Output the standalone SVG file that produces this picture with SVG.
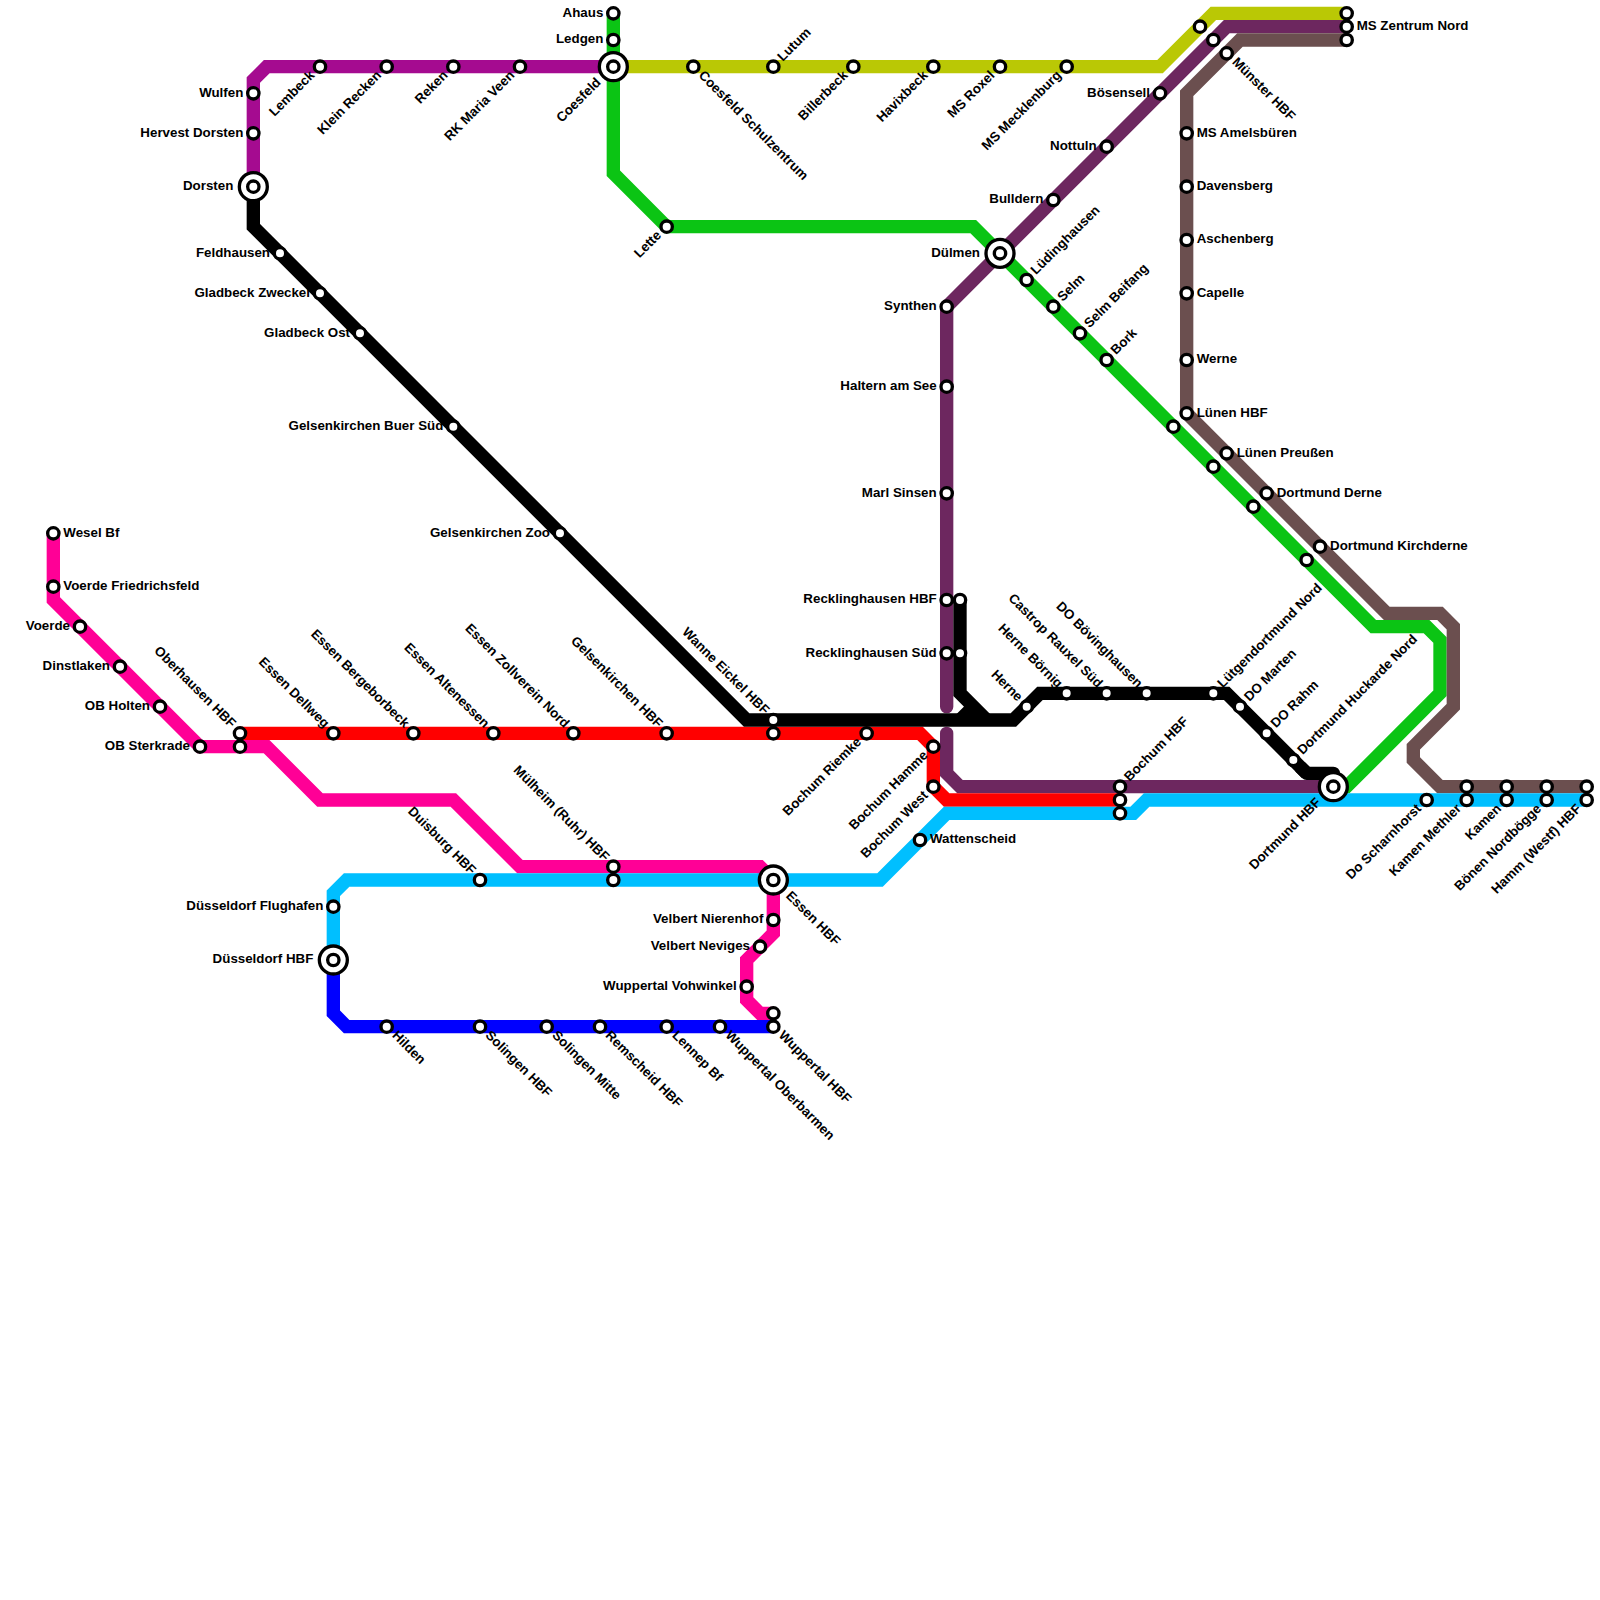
<svg xmlns="http://www.w3.org/2000/svg" width="1600" height="1600" viewBox="0 0 1600 1600">
<style>
text{font-family:"Liberation Sans",Arial,sans-serif;font-size:13.33px;font-weight:700;fill:#000}
.e{text-anchor:end}
.ln{fill:none;stroke-width:1;stroke-linejoin:miter;stroke-linecap:butt}
.st{fill:#fff;stroke:#000;stroke-width:3.33}
</style>
<defs>
<circle id="s" class="st" r="5.67"/>
<g id="b"><circle class="st" r="14"/><circle class="st" r="5.67"/></g>
</defs>
<rect width="1600" height="1600" fill="#fff"/>
<g id="connectors" transform="scale(13.33333)">
<path class="ln" stroke="#a50b90" d="M46 5H20L19 6V14"/>
<path class="ln" stroke="#0bc414" d="M46 1V13L50 17H73L103 47H107L108 48V52L101 59H100"/>
<path class="ln" stroke="#bac805" d="M46 5H87L91 1H101"/>
<path class="ln" stroke="#6d275f" style="stroke-linecap:round" d="M101 2H92L71 23V53"/>
<path class="ln" stroke="#6d275f" style="stroke-linecap:round" d="M71 55V58L72 59H100"/>
<path class="ln" stroke="#6b4f4f" d="M101 3H93L89 7V31L104 46H108L109 47V53L106 56V57L108 59H119"/>
<path class="ln" stroke="#ff0096" d="M4 40V45L15 56H20L24 60H34L39 65H57L58 66V70L56 72V75L57 76H58"/>
<path class="ln" stroke="#ff0000" d="M18 55H69L70 56V59L71 60H84"/>
<path class="ln" stroke="#00bfff" d="M25 72V67L26 66H66L71 61H85L86 60H119"/>
<path class="ln" stroke="#0000ff" d="M25 72V76L26 77H58"/>
<path class="ln" stroke="#000" d="M19 14V17L56 54H76L78 52H92L98 58"/>
<path class="ln" stroke="#000" style="stroke-linejoin:round" d="M97.5 57.5L98 58H100V59"/>
<path class="ln" stroke="#000" d="M72 45V52L74 54M72 54L73 53"/>
</g>
<g id="n-wesel" transform="translate(53.33 533.33)"><use href="#s"/><text x="10" y="3.3">Wesel Bf</text></g>
<g id="n-voerde-fr" transform="translate(53.33 586.67)"><use href="#s"/><text x="10" y="3.3">Voerde Friedrichsfeld</text></g>
<g id="n-voerde" transform="translate(80 626.67)"><use href="#s"/><text class="e" x="-10" y="3.3">Voerde</text></g>
<g id="n-dinslaken" transform="translate(120 666.67)"><use href="#s"/><text class="e" x="-10" y="3.3">Dinstlaken</text></g>
<g id="n-ob-holten" transform="translate(160 706.67)"><use href="#s"/><text class="e" x="-10" y="3.3">OB Holten</text></g>
<g id="n-ob-sterkrade" transform="translate(200 746.67)"><use href="#s"/><text class="e" x="-10" y="3.3">OB Sterkrade</text></g>
<g id="n-oberhausen" transform="translate(240 733.33)"><use href="#s"/><text class="e" transform="rotate(45)" x="-10" y="3.3">Oberhausen HBF</text></g>
<g id="n-oberhausen-2" transform="translate(240 746.67)"><use href="#s"/></g>
<g id="n-dellweg" transform="translate(333.33 733.33)"><use href="#s"/><text class="e" transform="rotate(45)" x="-10" y="3.3">Essen Dellweg</text></g>
<g id="n-bergeborbeck" transform="translate(413.33 733.33)"><use href="#s"/><text class="e" transform="rotate(45)" x="-10" y="3.3">Essen Bergeborbeck</text></g>
<g id="n-altenessen" transform="translate(493.33 733.33)"><use href="#s"/><text class="e" transform="rotate(45)" x="-10" y="3.3">Essen Altenessen</text></g>
<g id="n-zollverein" transform="translate(573.33 733.33)"><use href="#s"/><text class="e" transform="rotate(45)" x="-10" y="3.3">Essen Zollverein Nord</text></g>
<g id="n-ge-hbf" transform="translate(666.67 733.33)"><use href="#s"/><text class="e" transform="rotate(45)" x="-10" y="3.3">Gelsenkirchen HBF</text></g>
<g id="n-wanne" transform="translate(773.33 720)"><use href="#s"/><text class="e" transform="rotate(45)" x="-10" y="3.3">Wanne Eickel HBF</text></g>
<g id="n-wanne-2" transform="translate(773.33 733.33)"><use href="#s"/></g>
<g id="n-riemke" transform="translate(866.67 733.33)"><use href="#s"/><text class="e" transform="rotate(-45)" x="-10" y="3.3">Bochum Riemke</text></g>
<g id="n-hamme" transform="translate(933.33 746.67)"><use href="#s"/><text class="e" transform="rotate(-45)" x="-10" y="3.3">Bochum Hamme</text></g>
<g id="n-bo-west" transform="translate(933.33 786.67)"><use href="#s"/><text class="e" transform="rotate(-45)" x="-10" y="3.3">Bochum West</text></g>
<g id="n-bo-hbf" transform="translate(1120 786.67)"><use href="#s"/><text transform="rotate(-45)" x="10" y="3.3">Bochum HBF</text></g>
<g id="n-bo-hbf-2" transform="translate(1120 800)"><use href="#s"/></g>
<g id="n-bo-hbf-3" transform="translate(1120 813.33)"><use href="#s"/></g>
<g id="n-muelheim" transform="translate(613.33 866.67)"><use href="#s"/><text class="e" transform="rotate(45)" x="-10" y="3.3">Mülheim (Ruhr) HBF</text></g>
<g id="n-muelheim-2" transform="translate(613.33 880)"><use href="#s"/></g>
<g id="n-duisburg" transform="translate(480 880)"><use href="#s"/><text class="e" transform="rotate(45)" x="-10" y="3.3">Duisburg HBF</text></g>
<g id="n-flughafen" transform="translate(333.33 906.67)"><use href="#s"/><text class="e" x="-10" y="3.3">Düsseldorf Flughafen</text></g>
<g id="n-duesseldorf" transform="translate(333.33 960)"><use href="#b"/><text class="e" x="-20" y="3.3">Düsseldorf HBF</text></g>
<g id="n-hilden" transform="translate(386.67 1026.67)"><use href="#s"/><text transform="rotate(45)" x="10" y="3.3">Hilden</text></g>
<g id="n-solingen" transform="translate(480 1026.67)"><use href="#s"/><text transform="rotate(45)" x="10" y="3.3">Solingen HBF</text></g>
<g id="n-solingen-m" transform="translate(546.67 1026.67)"><use href="#s"/><text transform="rotate(45)" x="10" y="3.3">Solingen Mitte</text></g>
<g id="n-remscheid" transform="translate(600 1026.67)"><use href="#s"/><text transform="rotate(45)" x="10" y="3.3">Remscheid HBF</text></g>
<g id="n-lennep" transform="translate(666.67 1026.67)"><use href="#s"/><text transform="rotate(45)" x="10" y="3.3">Lennep Bf</text></g>
<g id="n-oberbarmen" transform="translate(720 1026.67)"><use href="#s"/><text transform="rotate(45)" x="10" y="3.3">Wuppertal Oberbarmen</text></g>
<g id="n-wuppertal" transform="translate(773.33 1026.67)"><use href="#s"/><text transform="rotate(45)" x="10" y="3.3">Wuppertal HBF</text></g>
<g id="n-wuppertal-2" transform="translate(773.33 1013.33)"><use href="#s"/></g>
<g id="n-nierenhof" transform="translate(773.33 920)"><use href="#s"/><text class="e" x="-10" y="3.3">Velbert Nierenhof</text></g>
<g id="n-neviges" transform="translate(760 946.67)"><use href="#s"/><text class="e" x="-10" y="3.3">Velbert Neviges</text></g>
<g id="n-vohwinkel" transform="translate(746.67 986.67)"><use href="#s"/><text class="e" x="-10" y="3.3">Wuppertal Vohwinkel</text></g>
<g id="n-essen" transform="translate(773.33 880)"><use href="#b"/><text transform="rotate(45)" x="20" y="3.3">Essen HBF</text></g>
<g id="n-wattenscheid" transform="translate(920 840)"><use href="#s"/><text x="10" y="3.3">Wattenscheid</text></g>
<g id="n-lette" transform="translate(666.67 226.67)"><use href="#s"/><text class="e" transform="rotate(-45)" x="-10" y="3.3">Lette</text></g>
<g id="n-coesfeld" transform="translate(613.33 66.67)"><use href="#b"/><text class="e" transform="rotate(-45)" x="-20" y="3.3">Coesfeld</text></g>
<g id="n-ledgen" transform="translate(613.33 40)"><use href="#s"/><text class="e" x="-10" y="3.3">Ledgen</text></g>
<g id="n-ahaus" transform="translate(613.33 13.33)"><use href="#s"/><text class="e" x="-10" y="3.3">Ahaus</text></g>
<g id="n-schulzentrum" transform="translate(693.33 66.67)"><use href="#s"/><text transform="rotate(45)" x="10" y="3.3">Coesfeld Schulzentrum</text></g>
<g id="n-lutum" transform="translate(773.33 66.67)"><use href="#s"/><text transform="rotate(-45)" x="10" y="3.3">Lutum</text></g>
<g id="n-billerbeck" transform="translate(853.33 66.67)"><use href="#s"/><text class="e" transform="rotate(-45)" x="-10" y="3.3">Billerbeck</text></g>
<g id="n-havixbeck" transform="translate(933.33 66.67)"><use href="#s"/><text class="e" transform="rotate(-45)" x="-10" y="3.3">Havixbeck</text></g>
<g id="n-roxel" transform="translate(1000 66.67)"><use href="#s"/><text class="e" transform="rotate(-45)" x="-10" y="3.3">MS Roxel</text></g>
<g id="n-mecklenburg" transform="translate(1066.67 66.67)"><use href="#s"/><text class="e" transform="rotate(-45)" x="-10" y="3.3">MS Mecklenburg</text></g>
<g id="n-boesensell" transform="translate(1160 93.33)"><use href="#s"/><text class="e" x="-10" y="3.3">Bösensell</text></g>
<g id="n-nottuln" transform="translate(1106.67 146.67)"><use href="#s"/><text class="e" x="-10" y="3.3">Nottuln</text></g>
<g id="n-bulldern" transform="translate(1053.33 200)"><use href="#s"/><text class="e" x="-10" y="3.3">Bulldern</text></g>
<g id="n-duelmen" transform="translate(1000 253.33)"><use href="#b"/><text class="e" x="-20" y="3.3">Dülmen</text></g>
<g id="n-synthen" transform="translate(946.67 306.67)"><use href="#s"/><text class="e" x="-10" y="3.3">Synthen</text></g>
<g id="n-haltern" transform="translate(946.67 386.67)"><use href="#s"/><text class="e" x="-10" y="3.3">Haltern am See</text></g>
<g id="n-marl" transform="translate(946.67 493.33)"><use href="#s"/><text class="e" x="-10" y="3.3">Marl Sinsen</text></g>
<g id="n-re-hbf" transform="translate(946.67 600)"><use href="#s"/><text class="e" x="-10" y="3.3">Recklinghausen HBF</text></g>
<g id="n-re-sued" transform="translate(946.67 653.33)"><use href="#s"/><text class="e" x="-10" y="3.3">Recklinghausen Süd</text></g>
<g id="n-re-hbf-2" transform="translate(960 600)"><use href="#s"/></g>
<g id="n-re-sued-2" transform="translate(960 653.33)"><use href="#s"/></g>
<g id="n-luedinghausen" transform="translate(1026.67 280)"><use href="#s"/><text transform="rotate(-45)" x="10" y="3.3">Lüdinghausen</text></g>
<g id="n-selm" transform="translate(1053.33 306.67)"><use href="#s"/><text transform="rotate(-45)" x="10" y="3.3">Selm</text></g>
<g id="n-beifang" transform="translate(1080 333.33)"><use href="#s"/><text transform="rotate(-45)" x="10" y="3.3">Selm Beifang</text></g>
<g id="n-bork" transform="translate(1106.67 360)"><use href="#s"/><text transform="rotate(-45)" x="10" y="3.3">Bork</text></g>
<g id="n-green-1" transform="translate(1173.33 426.67)"><use href="#s"/></g>
<g id="n-green-2" transform="translate(1213.33 466.67)"><use href="#s"/></g>
<g id="n-green-3" transform="translate(1253.33 506.67)"><use href="#s"/></g>
<g id="n-green-4" transform="translate(1306.67 560)"><use href="#s"/></g>
<g id="n-maria-veen" transform="translate(520 66.67)"><use href="#s"/><text class="e" transform="rotate(-45)" x="-10" y="3.3">RK Maria Veen</text></g>
<g id="n-reken" transform="translate(453.33 66.67)"><use href="#s"/><text class="e" transform="rotate(-45)" x="-10" y="3.3">Reken</text></g>
<g id="n-klein-recken" transform="translate(386.67 66.67)"><use href="#s"/><text class="e" transform="rotate(-45)" x="-10" y="3.3">Klein Recken</text></g>
<g id="n-lembeck" transform="translate(320 66.67)"><use href="#s"/><text class="e" transform="rotate(-45)" x="-10" y="3.3">Lembeck</text></g>
<g id="n-wulfen" transform="translate(253.33 93.33)"><use href="#s"/><text class="e" x="-10" y="3.3">Wulfen</text></g>
<g id="n-hervest" transform="translate(253.33 133.33)"><use href="#s"/><text class="e" x="-10" y="3.3">Hervest Dorsten</text></g>
<g id="n-dorsten" transform="translate(253.33 186.67)"><use href="#b"/><text class="e" x="-20" y="3.3">Dorsten</text></g>
<g id="n-feldhausen" transform="translate(280 253.33)"><use href="#s"/><text class="e" x="-10" y="3.3">Feldhausen</text></g>
<g id="n-zweckel" transform="translate(320 293.33)"><use href="#s"/><text class="e" x="-10" y="3.3">Gladbeck Zweckel</text></g>
<g id="n-gladbeck-ost" transform="translate(360 333.33)"><use href="#s"/><text class="e" x="-10" y="3.3">Gladbeck Ost</text></g>
<g id="n-buer" transform="translate(453.33 426.67)"><use href="#s"/><text class="e" x="-10" y="3.3">Gelsenkirchen Buer Süd</text></g>
<g id="n-zoo" transform="translate(560 533.33)"><use href="#s"/><text class="e" x="-10" y="3.3">Gelsenkirchen Zoo</text></g>
<g id="n-herne" transform="translate(1026.67 706.67)"><use href="#s"/><text class="e" transform="rotate(45)" x="-10" y="3.3">Herne</text></g>
<g id="n-boernig" transform="translate(1066.67 693.33)"><use href="#s"/><text class="e" transform="rotate(45)" x="-10" y="3.3">Herne Börnig</text></g>
<g id="n-castrop" transform="translate(1106.67 693.33)"><use href="#s"/><text class="e" transform="rotate(45)" x="-10" y="3.3">Castrop Rauxel Süd</text></g>
<g id="n-boevinghausen" transform="translate(1146.67 693.33)"><use href="#s"/><text class="e" transform="rotate(45)" x="-10" y="3.3">DO Bövinghausen</text></g>
<g id="n-luetgendortmund" transform="translate(1213.33 693.33)"><use href="#s"/><text transform="rotate(-45)" x="10" y="3.3">Lütgendortmund Nord</text></g>
<g id="n-marten" transform="translate(1240 706.67)"><use href="#s"/><text transform="rotate(-45)" x="10" y="3.3">DO Marten</text></g>
<g id="n-rahm" transform="translate(1266.67 733.33)"><use href="#s"/><text transform="rotate(-45)" x="10" y="3.3">DO Rahm</text></g>
<g id="n-huckarde" transform="translate(1293.33 760)"><use href="#s"/><text transform="rotate(-45)" x="10" y="3.3">Dortmund Huckarde Nord</text></g>
<g id="n-dortmund" transform="translate(1333.33 786.67)"><use href="#b"/><text class="e" transform="rotate(-45)" x="-20" y="3.3">Dortmund HBF</text></g>
<g id="n-scharnhorst" transform="translate(1426.67 800)"><use href="#s"/><text class="e" transform="rotate(-45)" x="-10" y="3.3">Do Scharnhorst</text></g>
<g id="n-methler" transform="translate(1466.67 800)"><use href="#s"/><text class="e" transform="rotate(-45)" x="-10" y="3.3">Kamen Methler</text></g>
<g id="n-methler-2" transform="translate(1466.67 786.67)"><use href="#s"/></g>
<g id="n-kamen" transform="translate(1506.67 800)"><use href="#s"/><text class="e" transform="rotate(-45)" x="-10" y="3.3">Kamen</text></g>
<g id="n-kamen-2" transform="translate(1506.67 786.67)"><use href="#s"/></g>
<g id="n-nordboegge" transform="translate(1546.67 800)"><use href="#s"/><text class="e" transform="rotate(-45)" x="-10" y="3.3">Bönen Nordbögge</text></g>
<g id="n-nordboegge-2" transform="translate(1546.67 786.67)"><use href="#s"/></g>
<g id="n-hamm" transform="translate(1586.67 800)"><use href="#s"/><text class="e" transform="rotate(-45)" x="-10" y="3.3">Hamm (Westf) HBF</text></g>
<g id="n-hamm-2" transform="translate(1586.67 786.67)"><use href="#s"/></g>
<g id="n-zentrum" transform="translate(1346.67 26.67)"><use href="#s"/><text x="10" y="3.3">MS Zentrum Nord</text></g>
<g id="n-zentrum-2" transform="translate(1346.67 13.33)"><use href="#s"/></g>
<g id="n-zentrum-3" transform="translate(1346.67 40)"><use href="#s"/></g>
<g id="n-olive-top" transform="translate(1200 26.67)"><use href="#s"/></g>
<g id="n-purple-top" transform="translate(1213.33 40)"><use href="#s"/></g>
<g id="n-muenster" transform="translate(1226.67 53.33)"><use href="#s"/><text transform="rotate(45)" x="10" y="3.3">Münster HBF</text></g>
<g id="n-amelsbueren" transform="translate(1186.67 133.33)"><use href="#s"/><text x="10" y="3.3">MS Amelsbüren</text></g>
<g id="n-davensberg" transform="translate(1186.67 186.67)"><use href="#s"/><text x="10" y="3.3">Davensberg</text></g>
<g id="n-aschenberg" transform="translate(1186.67 240)"><use href="#s"/><text x="10" y="3.3">Aschenberg</text></g>
<g id="n-capelle" transform="translate(1186.67 293.33)"><use href="#s"/><text x="10" y="3.3">Capelle</text></g>
<g id="n-werne" transform="translate(1186.67 360)"><use href="#s"/><text x="10" y="3.3">Werne</text></g>
<g id="n-luenen" transform="translate(1186.67 413.33)"><use href="#s"/><text x="10" y="3.3">Lünen HBF</text></g>
<g id="n-preussen" transform="translate(1226.67 453.33)"><use href="#s"/><text x="10" y="3.3">Lünen Preußen</text></g>
<g id="n-derne" transform="translate(1266.67 493.33)"><use href="#s"/><text x="10" y="3.3">Dortmund Derne</text></g>
<g id="n-kirchderne" transform="translate(1320 546.67)"><use href="#s"/><text x="10" y="3.3">Dortmund Kirchderne</text></g>
</svg>
